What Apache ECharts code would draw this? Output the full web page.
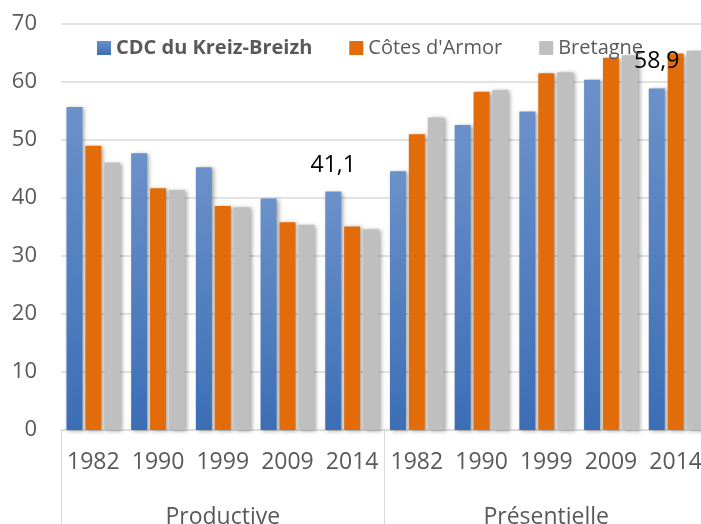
<!DOCTYPE html>
<html>
<head>
<meta charset="utf-8">
<script src="https://cdn.jsdelivr.net/npm/echarts@6/dist/echarts.min.js"></script>
<style>
  html, body { margin: 0; padding: 0; background: #fff; }
  #chartDom { width: 701px; height: 524px; }
</style>
</head>
<body>
<div id="chartDom"></div>
<script>
// categories
var years = ['1982', '1990', '1999', '2009', '2014', '1982', '1990', '1999', '2009', '2014'];
var groups = ['Productive', 'Présentielle'];
var yTicks = [0, 10, 20, 30, 40, 50, 60, 70];

// series values (share in %)
var kreizBreizh = [55.7, 47.7, 45.3, 39.9, 41.1, 44.6, 52.6, 54.9, 60.4, 58.9];
var cotesArmor = [49.0, 41.7, 38.6, 35.8, 35.1, 51.0, 58.3, 61.5, 64.2, 64.9];
var bretagne = [46.1, 41.4, 38.4, 35.4, 34.6, 53.9, 58.6, 61.7, 64.6, 65.4];

var labelled = [4, 9]; // bars that carry a value label

var textColor = '#595959';
var gridColor = '#d9d9d9';
var font = 'Open Sans';

var shadow = {
    shadowColor: 'rgba(0,0,0,0.35)',
    shadowBlur: 4,
    shadowOffsetX: 2,
    shadowOffsetY: 1
};

function withLabels(values) {
    return values.map(function (v, i) {
        if (labelled.indexOf(i) < 0) return v;
        return {
            value: v,
            label: {
                show: true,
                position: 'top',
                distance: 15,
                fontFamily: font,
                fontSize: 23,
                color: '#000',
                formatter: function (p) { return String(p.value).replace('.', ','); }
            }
        };
    });
}

var chart = echarts.init(document.getElementById('chartDom'));
chart.setOption({
    animation: false,
    textStyle: { fontFamily: font },
    legend: {
        left: 92,
        top: 33,
        itemWidth: 14,
        itemHeight: 14,
        itemGap: 37,
        icon: 'rect',
        textStyle: { fontFamily: font, fontSize: 20, color: textColor },
        data: [
            { name: 'CDC du Kreiz-Breizh', textStyle: { fontWeight: 'bold' } },
            { name: "Côtes d'Armor" },
            { name: 'Bretagne' }
        ]
    },
    grid: { left: 61, right: -7, top: 24, bottom: 94, outerBoundsMode: 'none', containLabel: false },
    xAxis: [{
        type: 'category',
        data: years,
        axisLine: { show: true, lineStyle: { color: gridColor } },
        axisTick: {
            show: true,
            length: 100,
            interval: function (i) { return i === 0 || i === 5; },
            lineStyle: { color: gridColor }
        },
        axisLabel: { interval: 0, margin: 21, fontSize: 23, color: textColor, fontFamily: font }
    }, {
        type: 'category',
        data: groups,
        position: 'bottom',
        axisLine: { show: false },
        axisTick: { show: false },
        axisLabel: { margin: 76, fontSize: 23, color: textColor, fontFamily: font }
    }],
    yAxis: {
        type: 'value',
        min: yTicks[0],
        max: yTicks[yTicks.length - 1],
        interval: 10,
        axisLine: { show: false },
        axisTick: { show: false },
        axisLabel: { margin: 24, fontSize: 22, color: textColor, fontFamily: font },
        splitLine: { lineStyle: { color: gridColor, width: 1.5 } }
    },
    series: [{
        name: 'CDC du Kreiz-Breizh',
        type: 'bar',
        barWidth: 16,
        barGap: '18%',
        itemStyle: Object.assign({
            color: {
                type: 'linear', x: 0, y: 0, x2: 0, y2: 1,
                colorStops: [{ offset: 0, color: '#6a91ca' }, { offset: 1, color: '#3c6eb5' }]
            }
        }, shadow),
        data: withLabels(kreizBreizh)
    }, {
        name: "Côtes d'Armor",
        type: 'bar',
        barWidth: 16,
        itemStyle: Object.assign({ color: '#e36c0a' }, shadow),
        data: cotesArmor
    }, {
        name: 'Bretagne',
        type: 'bar',
        barWidth: 16,
        itemStyle: Object.assign({ color: '#bfbfbf' }, shadow),
        data: bretagne
    }]
});
</script>
</body>
</html>
